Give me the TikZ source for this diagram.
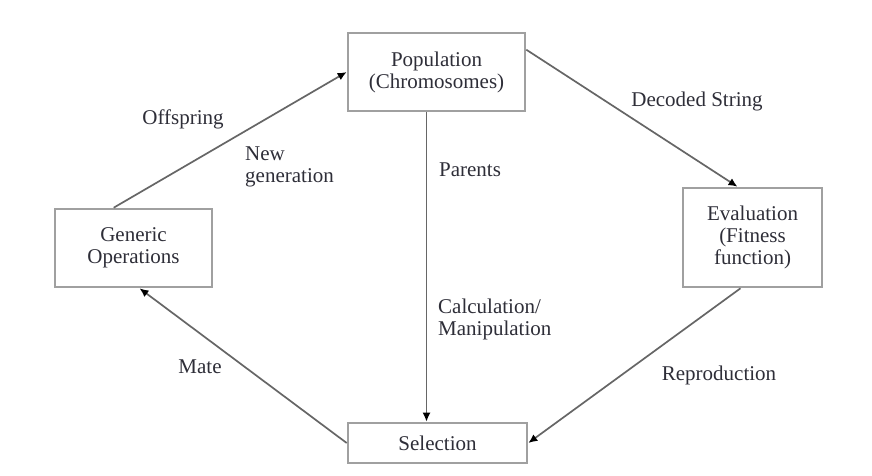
\documentclass[tikz,border=0pt]{standalone}
\usepackage{fontspec}
\setmainfont{Liberation Serif}
\usetikzlibrary{arrows.meta}
\definecolor{boxline}{HTML}{A0A0A0}
\definecolor{flowline}{HTML}{666666}
\definecolor{labeltext}{HTML}{2E2E38}
\begin{document}
\begin{tikzpicture}[x=1pt,y=-1pt,
  every node/.style={font=\fontsize{21}{22}\selectfont, text=labeltext},
  stagebox/.style={draw=boxline, line width=2.6pt, fill=white, align=center, inner sep=0pt},
  flow/.style={draw=flowline, line width=1.7pt, -{Latex[length=9pt,width=8pt,color=black]}},
  tag/.style={inner sep=0pt}]
\useasboundingbox[fill=white] (0,0) rectangle (872,476);

% stages of the cycle
\node[stagebox, minimum width=177pt, minimum height=78pt] (pop) at (436.5,72) {Population\\(Chromosomes)};
\node[stagebox, minimum width=157pt, minimum height=78pt] (gen) at (133.5,248) {Generic\\Operations};
\node[stagebox, minimum width=139pt, minimum height=99pt] (eval) at (752.5,237.5) {Evaluation\\(Fitness\\function)};
\node[stagebox, minimum width=179pt, minimum height=40pt] (sel) at (437.5,443) {Selection};

% connectors
\draw[flow] ([xshift=60pt]gen.north west) -- (pop.west);
\draw[flow] ([yshift=-18pt]pop.north east) -- ([xshift=-15pt]eval.north);
\draw[flow] ([xshift=-10pt]pop.south) -- ([xshift=-10pt]pop.south |- sel.north);
\draw[flow] ([xshift=-12pt]eval.south) -- (sel.east);
\draw[flow] (sel.west) -- ([xshift=6pt]gen.south);

% connector labels
\node[tag] (offspring) at (183,119) {Offspring};
\node[tag, anchor=west, align=left] (newgen) at (245,167) {New\\generation};
\node[tag] (decoded) at (697,101) {Decoded String};
\node[tag] (parents) at (470,170) {Parents};
\node[tag, anchor=west, align=left] (calc) at (438,319) {Calculation/\\Manipulation};
\node[tag] (mate) at (200,367) {Mate};
\node[tag] (repro) at (719,375) {Reproduction};
\end{tikzpicture}
\end{document}
